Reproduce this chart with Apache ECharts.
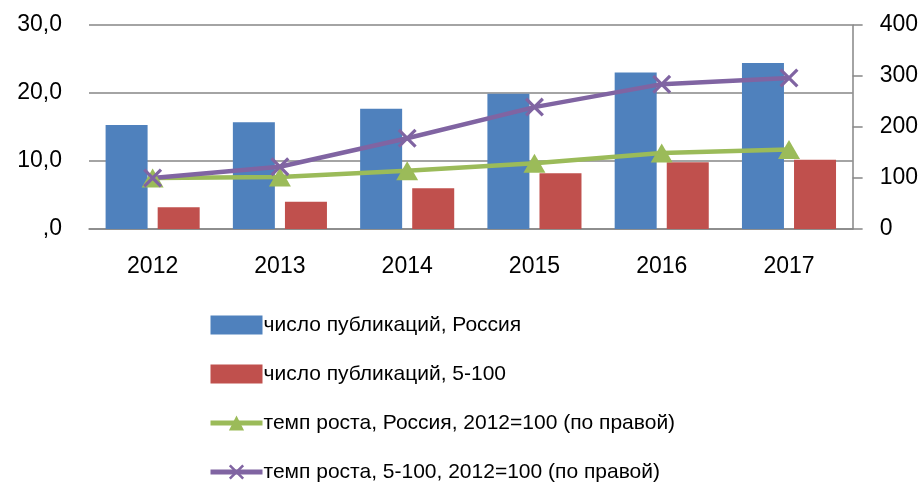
<!DOCTYPE html>
<html><head><meta charset="utf-8">
<script src="https://cdn.jsdelivr.net/npm/echarts@6/dist/echarts.min.js"></script>
<style>html,body{margin:0;padding:0;background:#fff}#c{width:921px;height:486px}</style>
</head><body><div id="c"></div>
<script>
const categories = ['2012','2013','2014','2015','2016','2017'];
const pubRussia = [15.3, 15.7, 17.7, 19.9, 23.0, 24.4];
const pub5100 = [3.2, 4.0, 6.0, 8.2, 9.8, 10.2];
const growthRussia = [100, 102, 114, 129, 149, 156];
const growth5100 = [100, 122, 178, 239, 284, 296];
const leftTicks = [0, 10, 20, 30];
const rightTicks = [0, 100, 200, 300, 400];
const names = ['число публикаций, Россия','число публикаций, 5-100','темп роста, Россия, 2012=100 (по правой)','темп роста, 5-100, 2012=100 (по правой)'];

const FONT = "'Liberation Sans Narrow','Arial Narrow','Liberation Sans',Arial,sans-serif";
const xSym = 'path://M0,1.2L1.2,0L10,8.8L8.8,10Z M8.8,0L10,1.2L1.2,10L0,8.8Z';
const chart = echarts.init(document.getElementById('c'));
chart.setOption({
  animation:false,
  textStyle:{fontFamily:FONT},
  grid:{left:89,right:68,top:25,bottom:257},
  legend:{orient:'vertical',left:203,top:305,height:180,itemWidth:52,itemHeight:19,itemGap:19,
    textStyle:{fontFamily:FONT,fontSize:21,color:'#000',lineHeight:30,padding:[0,0,0,-4]},
    data:[
      {name:names[0],icon:'rect',itemStyle:{borderWidth:0}},
      {name:names[1],icon:'rect',itemStyle:{borderWidth:0}},
      {name:names[2],lineStyle:{width:5}},
      {name:names[3],lineStyle:{width:5}}
    ]},
  xAxis:{type:'category',data:categories,
    axisLine:{lineStyle:{color:'#868686',width:1.5}},axisTick:{show:false},
    axisLabel:{color:'#000',fontSize:23,margin:26,fontFamily:FONT}},
  yAxis:[
    {type:'value',min:leftTicks[0],max:leftTicks[leftTicks.length-1],interval:10,
     axisLine:{show:false},axisTick:{show:false},
     splitLine:{lineStyle:{color:'#868686',width:1.5}},
     axisLabel:{color:'#000',fontSize:23,margin:27,fontFamily:FONT,
       formatter:v=> v===0? ',0' : v.toFixed(1).replace('.',',')}},
    {type:'value',min:rightTicks[0],max:rightTicks[rightTicks.length-1],interval:100,position:'right',
     axisLine:{show:true,lineStyle:{color:'#868686',width:1.5}},
     axisTick:{show:true,length:10,lineStyle:{color:'#868686',width:1.5}},
     splitLine:{show:false},
     axisLabel:{color:'#000',fontSize:23,margin:27,fontFamily:FONT}}
  ],
  series:[
    {name:names[0],type:'bar',data:pubRussia,barWidth:42,barGap:'24%',itemStyle:{color:'#4F81BD'}},
    {name:names[1],type:'bar',data:pub5100,barWidth:42,barGap:'24%',itemStyle:{color:'#C0504D'}},
    {name:names[2],type:'line',yAxisIndex:1,data:growthRussia,symbol:'triangle',symbolSize:[22,19],
      lineStyle:{color:'#9BBB59',width:4.5},itemStyle:{color:'#9BBB59'}},
    {name:names[3],type:'line',yAxisIndex:1,data:growth5100,symbol:xSym,symbolSize:19,
      lineStyle:{color:'#8064A2',width:4.5},itemStyle:{color:'#8064A2'}}
  ]
});
</script></body></html>
